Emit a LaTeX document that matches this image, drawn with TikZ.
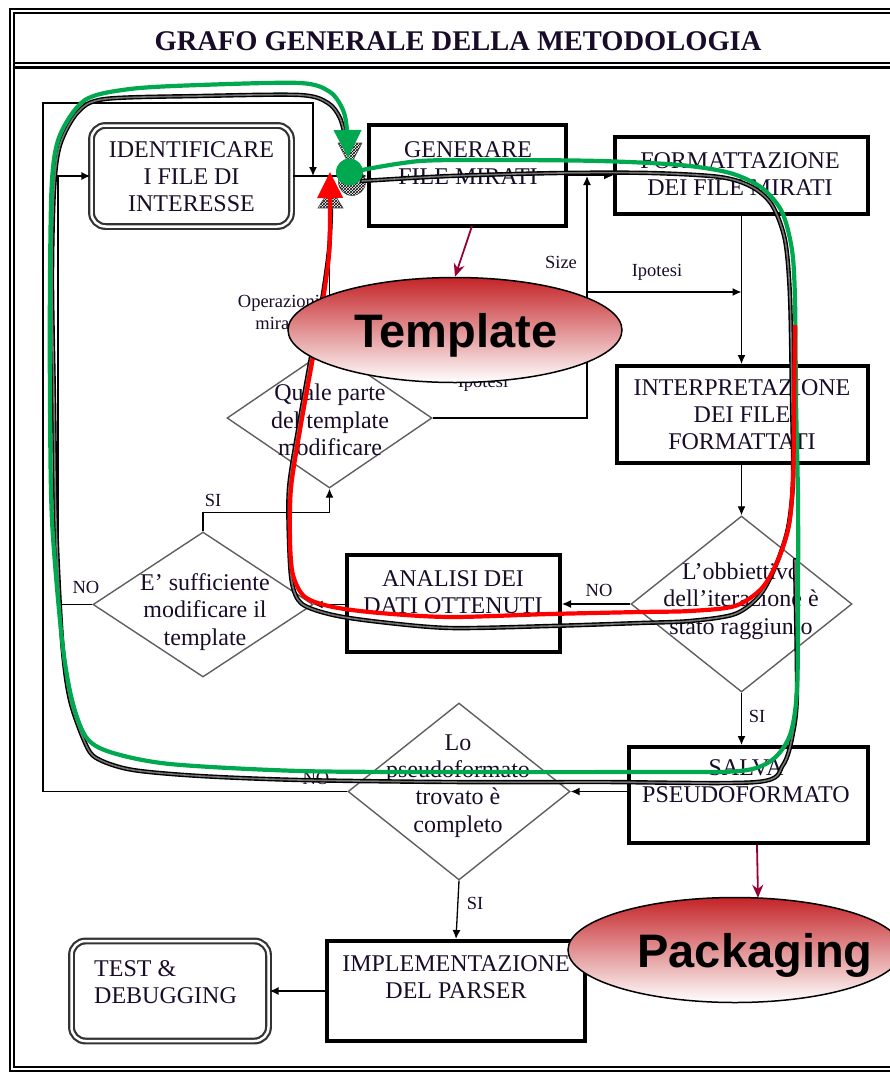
\documentclass[tikz,border=0pt]{standalone}
\usepackage{fontspec}
\setmainfont{Liberation Serif}
\newfontfamily\blobfont{Liberation Sans}
\usetikzlibrary{shapes.geometric,arrows.meta,patterns}
\definecolor{ink}{RGB}{25,12,40}
\definecolor{edge}{RGB}{95,95,95}
\definecolor{wine}{RGB}{150,0,55}
\definecolor{loopgreen}{RGB}{0,168,80}
\definecolor{loopred}{RGB}{255,0,0}
\definecolor{blobred}{RGB}{196,36,40}
\begin{document}
\begin{tikzpicture}[x=1pt,y=-1pt,
  txt/.style={font=\fontsize{24}{27}\selectfont, text=ink, align=center, inner sep=0pt},
  dtxt/.style={font=\fontsize{24}{27.3}\selectfont, text=ink, align=center, inner sep=0pt},
  lbl/.style={font=\fontsize{18.5}{21}\selectfont, text=ink, inner sep=0pt},
  heavybox/.style={draw=black, line width=4pt, rectangle, inner sep=0pt},
  roundbox/.style={draw=black!80, line width=2.2pt, double=white, double distance=2.5pt, rounded corners=14pt, rectangle, inner sep=0pt},
  choice/.style={draw=edge, line width=1.4pt, diamond, inner sep=0pt},
  flow/.style={draw=black, line width=1.3pt, -{Latex[length=9pt,width=8pt]}},
  wineflow/.style={draw=wine, line width=1.8pt, -{Stealth[length=13pt,width=11pt]}},
  hatchline/.style={draw=black, line width=1.4pt, double=black!55, double distance=1.6pt, line cap=round},
  hatchmark/.style={draw=black!70, line width=0.6pt, pattern=crosshatch, pattern color=black},
  blob/.style={ellipse, draw=black, line width=1.5pt, top color=blobred, middle color=blobred!55!white, bottom color=white, inner sep=0pt},
  blobtxt/.style={font=\blobfont\bfseries\fontsize{47}{50}\selectfont, text=black, inner sep=0pt, anchor=base}
]
\useasboundingbox (0,0) rectangle (890,1074);

% outer frame and title band
\draw[line width=1.8pt, double=white, double distance=2.4pt] (12,11) rectangle (905,1069);
\draw[line width=1.1pt] (14,63) -- (905,63);
\draw[line width=3pt] (14,67.5) -- (905,67.5);
\node[font=\bfseries\fontsize{28.5}{31}\selectfont, text=ink, inner sep=0pt] (title) at (458,41.5) {GRAFO GENERALE DELLA METODOLOGIA};

% process boxes
\node[roundbox, minimum width=200pt, minimum height=101pt] (iden) at (191.5,176) {};
\node[txt] (identxt) at (191.5,176.5) {IDENTIFICARE\\I FILE DI\\INTERESSE};
\node[heavybox, minimum width=197pt, minimum height=101pt] (gen) at (467.5,175.5) {};
\node[txt] (gentxt) at (468,163) {GENERARE\\FILE MIRATI};
\node[heavybox, minimum width=253pt, minimum height=77pt] (fmt) at (741.5,175.5) {};
\node[txt] (fmttxt) at (740,174) {FORMATTAZIONE\\DEI FILE MIRATI};
\node[heavybox, minimum width=251pt, minimum height=97pt] (interp) at (742.5,414.5) {};
\node[txt] (interptxt) at (742,414.5) {INTERPRETAZIONE\\DEI FILE\\FORMATTATI};
\node[heavybox, minimum width=213pt, minimum height=97pt] (anal) at (453.5,603.5) {};
\node[txt] (analtxt) at (453,592.5) {ANALISI DEI\\DATI OTTENUTI};
\node[heavybox, minimum width=239pt, minimum height=96pt] (salva) at (748.5,795) {};
\node[txt] (salvatxt) at (746,781) {SALVA\\PSEUDOFORMATO};
\node[heavybox, minimum width=258pt, minimum height=100pt] (impl) at (456,991) {};
\node[txt] (impltxt) at (456,977.5) {IMPLEMENTAZIONE\\DEL PARSER};
\node[roundbox, minimum width=197pt, minimum height=100pt] (test) at (170,991) {};
\node[txt, align=left, anchor=west] (testtxt) at (94,982.5) {TEST \&\\DEBUGGING};

% decisions
\node[choice, minimum width=205pt, minimum height=140pt] (quale) at (329.5,418) {};
\node[dtxt] (qualetxt) at (330,420) {Quale parte\\del template\\modificare};
\node[choice, minimum width=220pt, minimum height=145pt] (suff) at (203,604.5) {};
\node[dtxt] (sufftxt) at (205,612) {E' sufficiente\\modificare il\\template};
\node[choice, minimum width=221pt, minimum height=176pt] (obj) at (741.5,604) {};
\node[dtxt] (objtxt) at (741,601) {L'obbiettivo\\dell'iterazione è\\stato raggiunto};
\node[choice, minimum width=222pt, minimum height=177pt] (lo) at (459,791.5) {};
\node[dtxt] (lotxt) at (458,786) {Lo\\pseudoformato\\trovato è\\completo};

% routing points
\coordinate (topleft) at (43,103);
\coordinate (dropin) at (313,176);
\coordinate (ileft) at (58,176);
\coordinate (sizein) at (587,176);
\coordinate (ipo) at (587,292);

% connectors
\draw[flow] (iden.east) -- (iden.east -| gen.west);
\draw[flow] (gen.east) -- (fmt.west);
\draw[flow] (fmt.south) -- (fmt.south |- interp.north);
\draw[flow] (ipo) -- (ipo -| fmt.south);
\draw[flow] (quale.east) -| (sizein);
\draw[flow] (interp.south -| fmt.south) -- (obj.north);
\draw[flow] (obj.west) -- (obj.west -| anal.east);
\draw[flow] (obj.south) -- (obj.south |- salva.north);
\draw[flow] (salva.west |- lo.east) -- (lo.east);
\draw[flow] (anal.west |- suff.east) -- (suff.east);
\draw[flow] (suff.north) -- ++(0,-19) -| (quale.south);
\draw[flow] (suff.west) -| (ileft) -- (iden.west);
\draw[flow] (quale.north) -- (quale.north |- iden.east);
\draw[flow] (lo.west) -| (topleft) -| (dropin);
\draw[flow] (lo.south) -- (impl.north);
\draw[flow] (impl.west) -- (test.east);

% connector labels
\node[lbl] (lsize) at (561,262) {Size};
\node[lbl] (lipo1) at (657,272) {Ipotesi};
\node[lbl] (lipo2) at (483,383) {Ipotesi};
\node[lbl, align=center, font=\fontsize{18.5}{22}\selectfont] (lop) at (279,312) {Operazioni\\mirate};
\node[lbl] (lsi1) at (213,500) {SI};
\node[lbl] (lno1) at (86,587) {NO};
\node[lbl] (lno2) at (599,590) {NO};
\node[lbl] (lsi2) at (757,716) {SI};
\node[lbl] (lno3) at (316,778) {NO};
\node[lbl] (lsi3) at (475,903) {SI};

% hatched cycle traces
\path[hatchmark] (338,143) -- (362,143) -- (350,166) -- cycle;
\path[hatchmark] (352,182) circle[radius=13.5];
\path[hatchmark] (318,208) -- (343,208) -- (330.5,188) -- cycle;
\draw[hatchline] plot[smooth, tension=0.5] coordinates {(362,181) (450,176) (560,173) (650,173) (720,177) (752,187) (772,205) (785,240) (790,297) (792,400) (793,480) (788,528) (776,565) (760,595) (735,614) (690,621) (640,623) (550,626) (450,628) (380,622) (333,615) (302,604) (292,583) (289,540) (289,488) (298,430) (311,357) (322,300) (329,250) (331,210)};
\draw[hatchline] plot[smooth, tension=0.5] coordinates {(795,560) (797,690) (793,733) (783,765) (757,782) (600,782) (450,782) (300,780) (200,776) (133,770) (100,760) (87,747) (70,700) (62,640) (56,520) (54,400) (52,280) (54,190) (60,145) (78,112) (105,99) (200,96) (300,95) (328,103) (340,118) (346,140)};

% green cycle
\draw[loopgreen, line width=4.2pt, -{Triangle[length=28pt,width=27pt]}] plot[smooth, tension=0.5] coordinates {(362,170) (420,161) (500,160) (600,161) (680,165) (730,173) (762,188) (782,212) (792,250) (795,300) (796,400) (798,500) (798,600) (797,690) (790,735) (772,760) (740,771) (650,772) (450,772) (300,771) (170,764) (110,752) (86,737) (72,700) (62,640) (52,520) (50,400) (50,280) (52,180) (60,135) (85,100) (130,89) (200,85) (300,83) (330,92) (343,110) (347,130) (348,158)};
\fill[loopgreen] (349.5,172) circle[radius=13.5];

% red cycle
\draw[loopred, line width=4.2pt, -{Triangle[length=26pt,width=25pt]}] plot[smooth, tension=0.5] coordinates {(795,325) (794,420) (793,480) (789,525) (778,560) (762,588) (735,606) (690,611) (640,612) (550,614) (450,617) (380,613) (333,607) (305,597) (293,575) (290,540) (291,488) (300,430) (313,357) (323,300) (329,255) (330,215) (330,172)};

% callouts
\node[blob, minimum width=334pt, minimum height=105pt] (tmpl) at (455,330) {};
\node[blobtxt] (tmpltxt) at (456,347) {Template};
\node[blob, minimum width=334pt, minimum height=105pt] (pkg) at (735,950) {};
\node[blobtxt] (pkgtxt) at (755,967) {Packaging};
\draw[wineflow] ([xshift=4.5pt,yshift=2pt]gen.south) -- (tmpl.north);
\draw[wineflow] ([xshift=8.5pt]salva.south) -- ([xshift=23pt,yshift=-1pt]pkg.north);
\end{tikzpicture}
\end{document}
